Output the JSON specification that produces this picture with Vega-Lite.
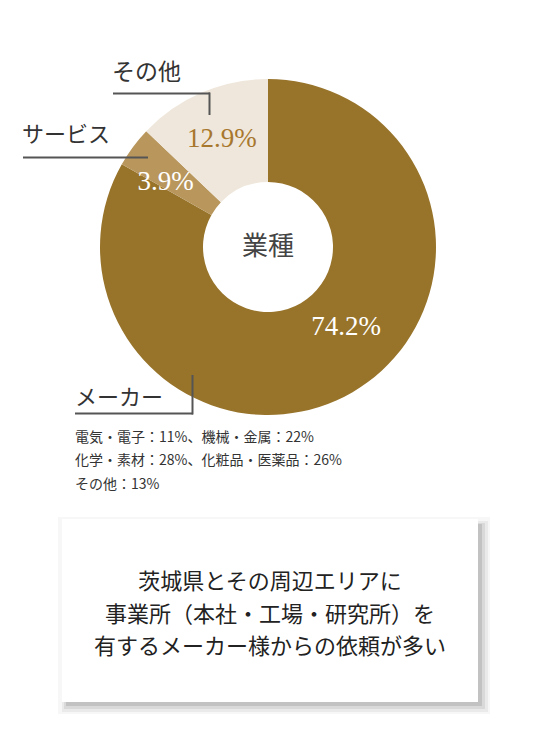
{
  "$schema": "https://vega.github.io/schema/vega-lite/v6.json",
  "width": 540,
  "height": 730,
  "autosize": {"type": "none"},
  "padding": 0,
  "background": "white",
  "config": {"view": {"stroke": null}},
  "datasets": {
    "industry": [
      {"cat": "メーカー", "share": 83.2, "label": "74.2%", "o": 1},
      {"cat": "サービス", "share": 3.9, "label": "3.9%", "o": 2},
      {"cat": "その他", "share": 12.9, "label": "12.9%", "o": 3}
    ],
    "one": [{}]
  },
  "layer": [
    {
      "data": {"name": "industry"},
      "mark": {"type": "arc", "outerRadius": 168, "innerRadius": 65},
      "encoding": {
        "theta": {"field": "share", "type": "quantitative", "stack": true},
        "order": {"field": "o", "type": "quantitative"},
        "color": {"field": "cat", "type": "nominal", "legend": null,
          "scale": {"domain": ["メーカー", "サービス", "その他"], "range": ["#98742b", "#b8965c", "#efe7dc"]}},
        "x": {"datum": 268, "type": "quantitative", "axis": null, "scale": {"domain": [0, 540], "range": [0, 540], "nice": false, "zero": false}},
        "y": {"datum": 247, "type": "quantitative", "axis": null, "scale": {"domain": [0, 730], "range": [0, 730], "nice": false, "zero": false}}
      }
    },
    {
      "data": {"name": "industry"},
      "mark": {"type": "text", "radius": 111.5, "thetaOffset": -0.248, "font": "Liberation Serif", "fontSize": 27, "color": "white"},
      "encoding": {
        "theta": {"field": "share", "type": "quantitative", "stack": true},
        "order": {"field": "o", "type": "quantitative"},
        "text": {"field": "label"},
        "opacity": {"condition": {"test": "datum.cat === 'メーカー'", "value": 1}, "value": 0},
        "x": {"datum": 268, "type": "quantitative", "axis": null, "scale": {"domain": [0, 540], "range": [0, 540], "nice": false, "zero": false}},
        "y": {"datum": 247, "type": "quantitative", "axis": null, "scale": {"domain": [0, 730], "range": [0, 730], "nice": false, "zero": false}}
      }
    },
    {
      "data": {"name": "industry"},
      "mark": {"type": "text", "radius": 121, "thetaOffset": -0.075, "font": "Liberation Serif", "fontSize": 27, "color": "white"},
      "encoding": {
        "theta": {"field": "share", "type": "quantitative", "stack": true},
        "order": {"field": "o", "type": "quantitative"},
        "text": {"field": "label"},
        "opacity": {"condition": {"test": "datum.cat === 'サービス'", "value": 1}, "value": 0},
        "x": {"datum": 268, "type": "quantitative", "axis": null, "scale": {"domain": [0, 540], "range": [0, 540], "nice": false, "zero": false}},
        "y": {"datum": 247, "type": "quantitative", "axis": null, "scale": {"domain": [0, 730], "range": [0, 730], "nice": false, "zero": false}}
      }
    },
    {
      "data": {"name": "industry"},
      "mark": {"type": "text", "radius": 117, "font": "Liberation Serif", "fontSize": 27, "color": "#a8772e"},
      "encoding": {
        "theta": {"field": "share", "type": "quantitative", "stack": true},
        "order": {"field": "o", "type": "quantitative"},
        "text": {"field": "label"},
        "opacity": {"condition": {"test": "datum.cat === 'その他'", "value": 1}, "value": 0},
        "x": {"datum": 268, "type": "quantitative", "axis": null, "scale": {"domain": [0, 540], "range": [0, 540], "nice": false, "zero": false}},
        "y": {"datum": 247, "type": "quantitative", "axis": null, "scale": {"domain": [0, 730], "range": [0, 730], "nice": false, "zero": false}}
      }
    },
    {
      "data": {"name": "one"},
      "mark": {"type": "text", "text": "業種", "font": "Noto Sans CJK JP", "fontSize": 26, "color": "#444444", "align": "center", "baseline": "middle"},
      "encoding": {
        "x": {"datum": 268, "type": "quantitative"},
        "y": {"datum": 247, "type": "quantitative"}
      }
    },
    {
      "data": {"name": "one"},
      "mark": {"type": "text", "text": "その他", "font": "Noto Sans CJK JP", "fontSize": 23, "color": "#333333", "align": "left", "baseline": "middle"},
      "encoding": {
        "x": {"datum": 112, "type": "quantitative"},
        "y": {"datum": 73, "type": "quantitative"}
      }
    },
    {
      "data": {"name": "one"},
      "mark": {"type": "text", "text": "サービス", "font": "Noto Sans CJK JP", "fontSize": 22, "color": "#333333", "align": "left", "baseline": "middle"},
      "encoding": {
        "x": {"datum": 22, "type": "quantitative"},
        "y": {"datum": 135, "type": "quantitative"}
      }
    },
    {
      "data": {"name": "one"},
      "mark": {"type": "text", "text": "メーカー", "font": "Noto Sans CJK JP", "fontSize": 22, "color": "#333333", "align": "left", "baseline": "middle"},
      "encoding": {
        "x": {"datum": 75, "type": "quantitative"},
        "y": {"datum": 398, "type": "quantitative"}
      }
    },
    {
      "data": {"name": "one"},
      "mark": {"type": "rule", "color": "#555555", "strokeWidth": 2},
      "encoding": {
        "x": {"datum": 113, "type": "quantitative"},
        "x2": {"datum": 210},
        "y": {"datum": 93.5, "type": "quantitative"}
      }
    },
    {
      "data": {"name": "one"},
      "mark": {"type": "rule", "color": "#555555", "strokeWidth": 2},
      "encoding": {
        "x": {"datum": 209.5, "type": "quantitative"},
        "y": {"datum": 92.5, "type": "quantitative"},
        "y2": {"datum": 115}
      }
    },
    {
      "data": {"name": "one"},
      "mark": {"type": "rule", "color": "#555555", "strokeWidth": 2},
      "encoding": {
        "x": {"datum": 23, "type": "quantitative"},
        "x2": {"datum": 148},
        "y": {"datum": 157.5, "type": "quantitative"}
      }
    },
    {
      "data": {"name": "one"},
      "mark": {"type": "rule", "color": "#555555", "strokeWidth": 2},
      "encoding": {
        "x": {"datum": 75, "type": "quantitative"},
        "x2": {"datum": 193},
        "y": {"datum": 413.5, "type": "quantitative"}
      }
    },
    {
      "data": {"name": "one"},
      "mark": {"type": "rule", "color": "#555555", "strokeWidth": 2},
      "encoding": {
        "x": {"datum": 192.5, "type": "quantitative"},
        "y": {"datum": 375, "type": "quantitative"},
        "y2": {"datum": 414.5}
      }
    },
    {
      "data": {"name": "one"},
      "mark": {"type": "text", "text": ["電気・電子：11%、機械・金属：22%", "化学・素材：28%、化粧品・医薬品：26%", "その他：13%"], "font": "Noto Sans CJK JP", "fontSize": 14, "lineHeight": 23.5, "color": "#333333", "align": "left", "baseline": "middle"},
      "encoding": {
        "x": {"datum": 75, "type": "quantitative"},
        "y": {"datum": 437.5, "type": "quantitative"}
      }
    },
    {
      "data": {"name": "one"},
      "mark": {"type": "rect", "color": "#000000", "opacity": 0.03},
      "encoding": {
        "x": {"datum": 58, "type": "quantitative"}, "x2": {"datum": 490},
        "y": {"datum": 517, "type": "quantitative"}, "y2": {"datum": 714}
      }
    },
    {
      "data": {"name": "one"},
      "mark": {"type": "rect", "color": "#000000", "opacity": 0.05},
      "encoding": {
        "x": {"datum": 62, "type": "quantitative"}, "x2": {"datum": 488},
        "y": {"datum": 521, "type": "quantitative"}, "y2": {"datum": 712}
      }
    },
    {
      "data": {"name": "one"},
      "mark": {"type": "rect", "color": "#000000", "opacity": 0.07},
      "encoding": {
        "x": {"datum": 64, "type": "quantitative"}, "x2": {"datum": 485},
        "y": {"datum": 523, "type": "quantitative"}, "y2": {"datum": 709}
      }
    },
    {
      "data": {"name": "one"},
      "mark": {"type": "rect", "color": "#000000", "opacity": 0.1},
      "encoding": {
        "x": {"datum": 66, "type": "quantitative"}, "x2": {"datum": 482},
        "y": {"datum": 524, "type": "quantitative"}, "y2": {"datum": 706}
      }
    },
    {
      "data": {"name": "one"},
      "mark": {"type": "rect", "color": "#ffffff", "opacity": 1},
      "encoding": {
        "x": {"datum": 62, "type": "quantitative"}, "x2": {"datum": 478},
        "y": {"datum": 519, "type": "quantitative"}, "y2": {"datum": 702}
      }
    },
    {
      "data": {"name": "one"},
      "mark": {"type": "text", "text": ["茨城県とその周辺エリアに", "事業所（本社・工場・研究所）を", "有するメーカー様からの依頼が多い"], "font": "Noto Sans CJK JP", "fontSize": 22, "lineHeight": 32.5, "color": "#222222", "align": "center", "baseline": "middle"},
      "encoding": {
        "x": {"datum": 270, "type": "quantitative"},
        "y": {"datum": 582, "type": "quantitative"}
      }
    }
  ]
}
